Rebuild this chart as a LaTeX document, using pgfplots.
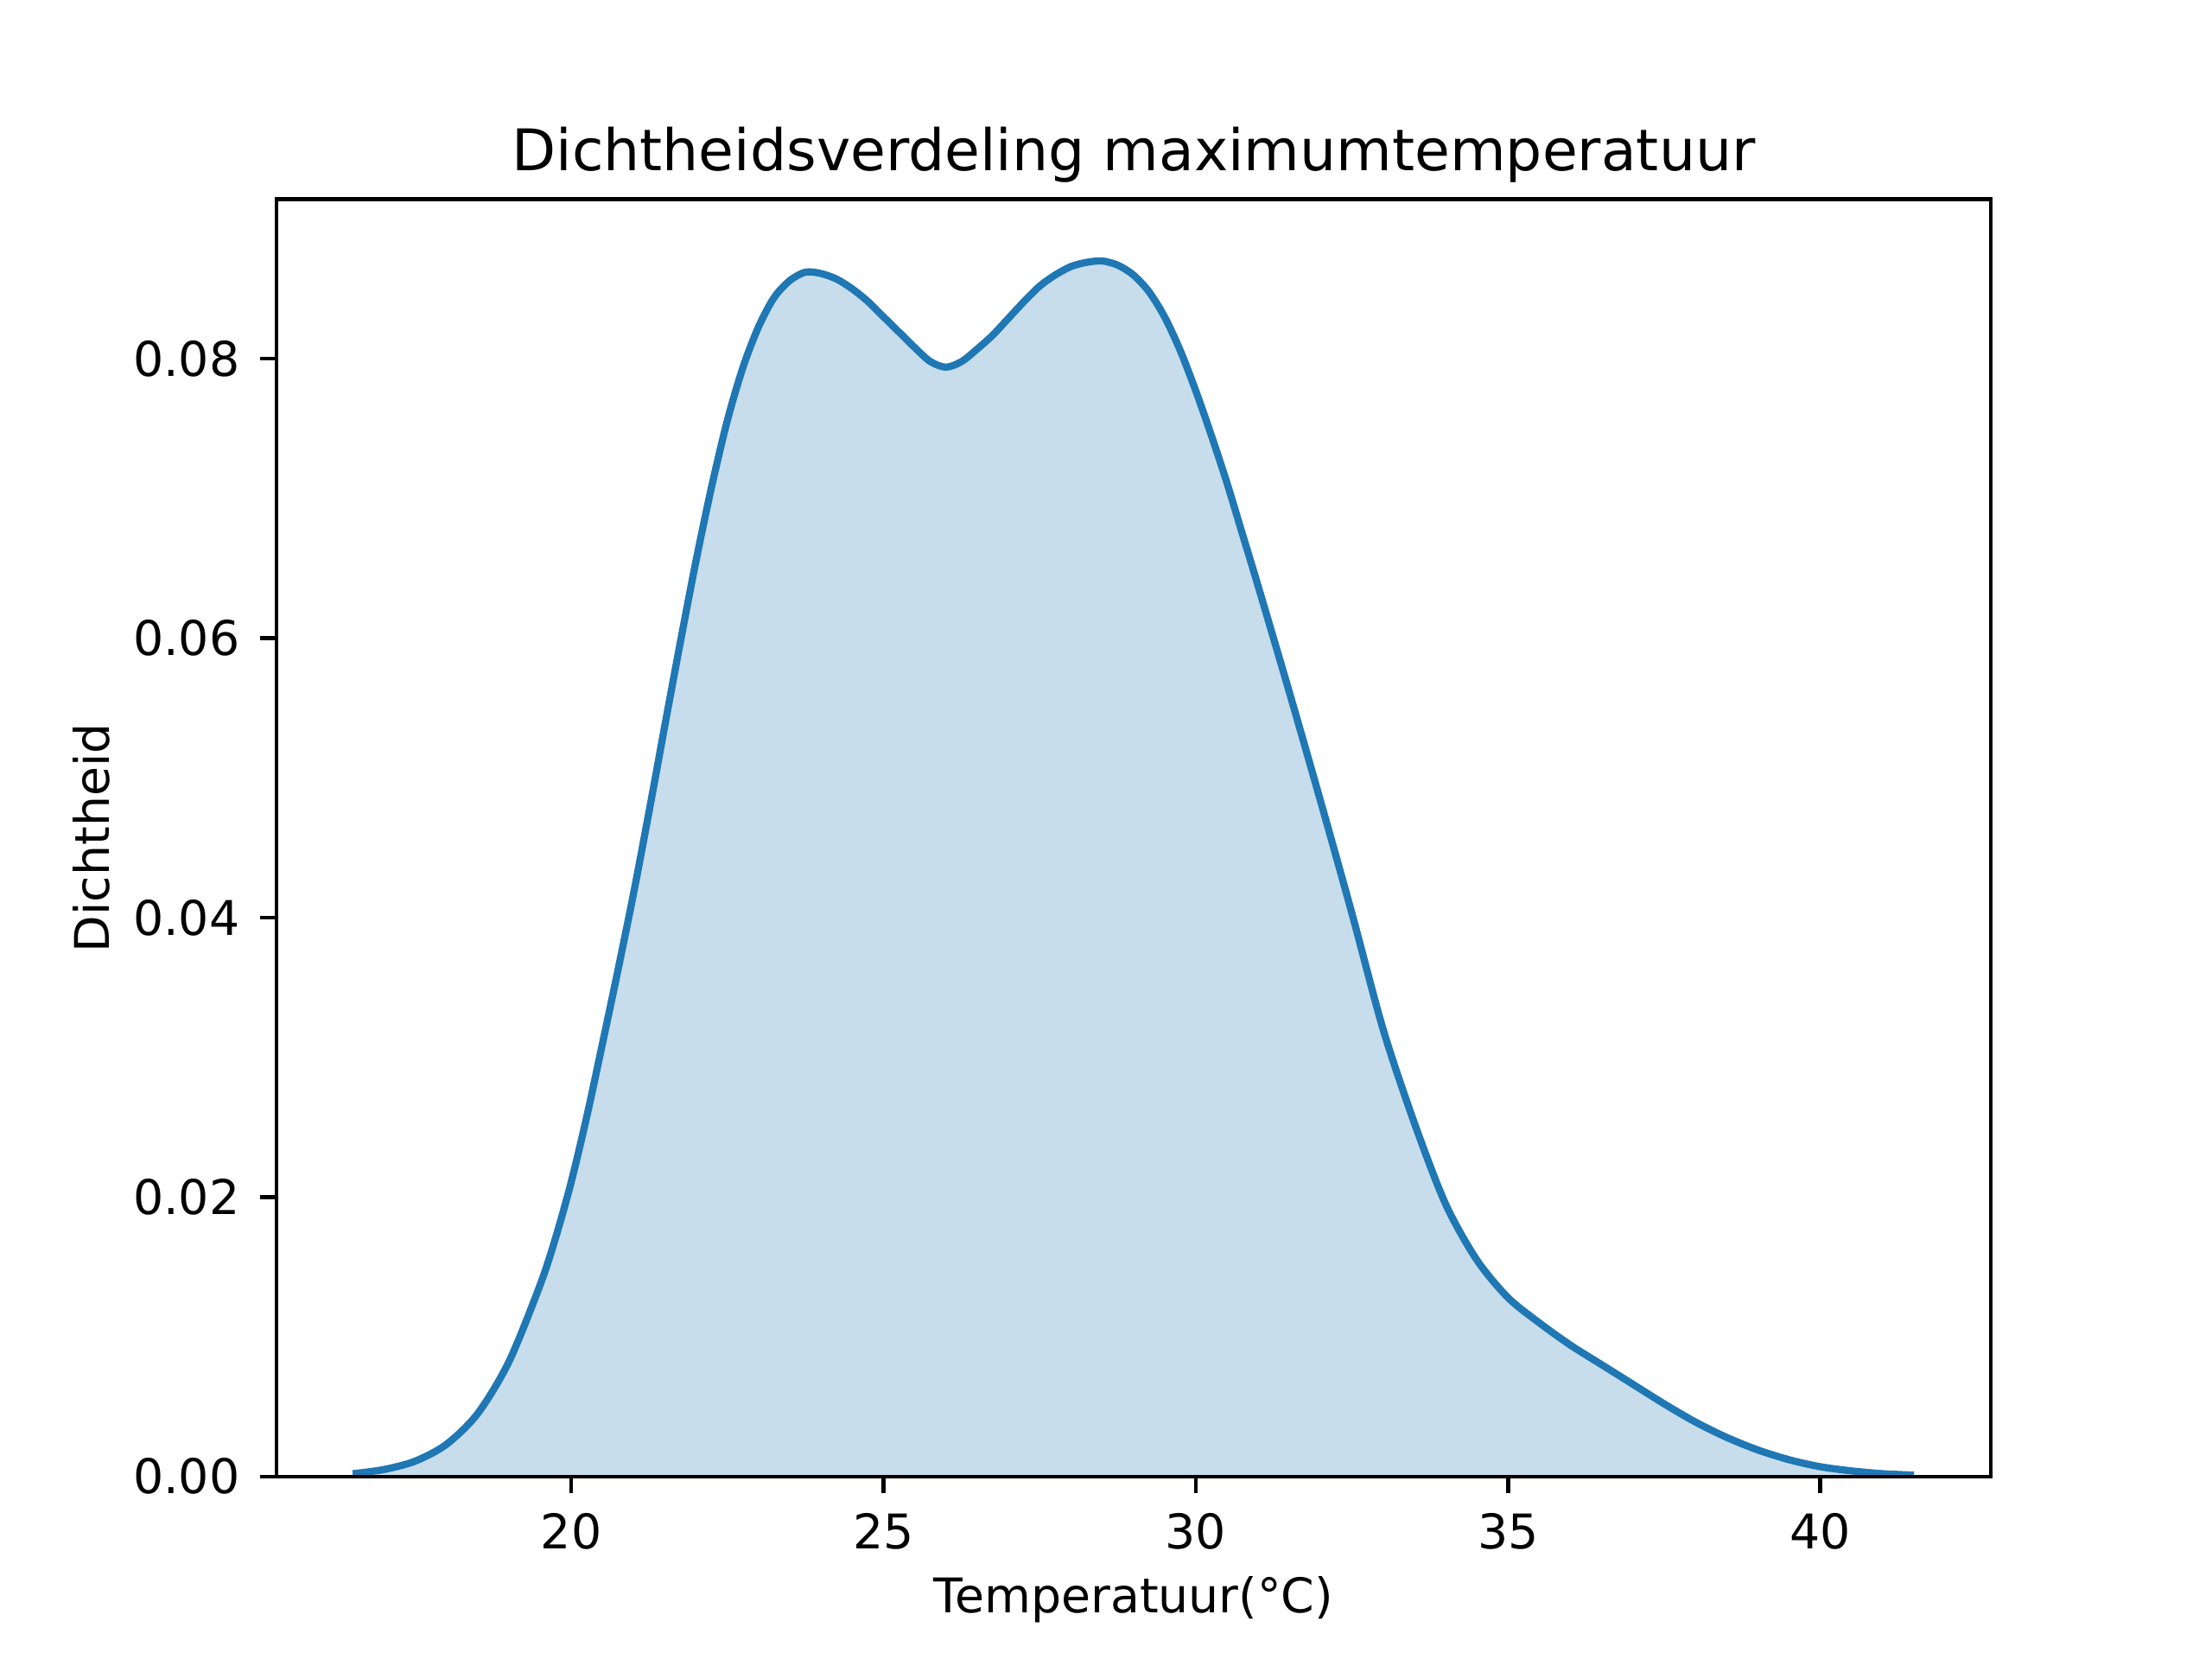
\documentclass[border=0pt]{standalone}
\usepackage{pgfplots}
\pgfplotsset{compat=1.18}
\usepackage{fontspec}
\setmainfont{DejaVu Sans}
\definecolor{mplblue}{HTML}{1F77B4}
\pgfplotstableread{
x y
16.5 0.0002
17.0 0.0005
17.5 0.0011
18.0 0.0023
18.5 0.0045
19.0 0.0082
19.5 0.0137
19.75 0.0171
20.0 0.0211
20.25 0.0258
20.5 0.0310
20.75 0.0363
21.0 0.0418
21.25 0.0477
21.5 0.0538
21.75 0.0598
22.0 0.0656
22.25 0.0709
22.5 0.0756
22.75 0.0794
23.0 0.0823
23.25 0.0844
23.5 0.0856
23.75 0.0862
24.0 0.0861
24.25 0.0857
24.5 0.0850
24.75 0.0841
25.0 0.0830
25.25 0.0819
25.5 0.0808
25.75 0.0798
26.0 0.0794
26.25 0.0798
26.5 0.0807
26.75 0.0817
27.0 0.0829
27.25 0.0841
27.5 0.0852
27.75 0.0860
28.0 0.0866
28.25 0.0869
28.5 0.0870
28.75 0.0867
29.0 0.0860
29.25 0.0848
29.5 0.0830
29.75 0.0806
30.0 0.0777
30.25 0.0745
30.5 0.0711
30.75 0.0674
31.0 0.0637
31.5 0.0561
32.0 0.0483
32.5 0.0403
33.0 0.0320
33.5 0.0253
34.0 0.0195
34.5 0.0155
35.0 0.0128
35.5 0.0110
36.0 0.0094
36.5 0.0080
37.0 0.0066
37.5 0.0052
38.0 0.0039
38.5 0.0028
39.0 0.0019
39.5 0.0012
40.0 0.0007
40.5 0.0004
41.0 0.0002
41.5 0.0001
}\kde
\begin{document}
\begin{tikzpicture}
\path[use as bounding box] (0,0) rectangle (6.4in,4.8in);
\begin{axis}[
  at={(0.8in,0.528in)}, anchor=south west,
  scale only axis, width=4.96in, height=3.696in,
  xmin=15.28, xmax=42.73, ymin=0, ymax=0.09143,
  xtick={20,25,30,35,40},
  ytick={0,0.02,0.04,0.06,0.08},
  scaled y ticks=false,
  yticklabel style={/pgf/number format/fixed, /pgf/number format/fixed zerofill, /pgf/number format/precision=2},
  /pgf/number format/assume math mode=true,
  tick pos=left, tick align=outside,
  major tick length=3.5pt,
  every tick/.style={black, line width=0.8pt},
  axis line style={line width=0.8pt},
  axis on top,
  xticklabel style={anchor=north, inner sep=0pt, yshift=-4pt},
  yticklabel style={anchor=east, inner sep=0pt, xshift=-4pt},
  title={Dichtheidsverdeling maximumtemperatuur},
  title style={at={(axis description cs:0.5,1)}, anchor=base, inner sep=0pt, font=\fontsize{12}{14.4}\selectfont},
  xlabel={Temperatuur(°C)},
  xlabel style={at={(axis description cs:0.5,-0.0774)}, anchor=north, inner sep=0pt},
  ylabel={Dichtheid},
  ylabel style={at={(axis description cs:-0.0966,0.5)}, anchor=south, inner sep=0pt},
]
\addplot[draw=none, fill=mplblue, fill opacity=0.25, smooth] table[x=x,y=y]{\kde} \closedcycle;
\addplot[mplblue, line width=1.5pt, smooth] table[x=x,y=y]{\kde};
\end{axis}
\end{tikzpicture}
\end{document}
